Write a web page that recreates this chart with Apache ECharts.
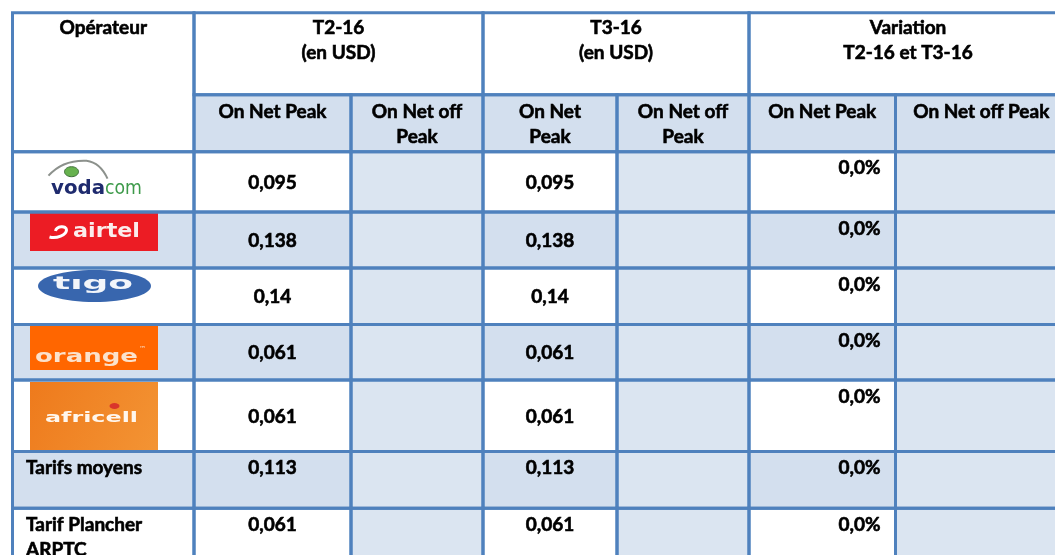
<!DOCTYPE html>
<html>
<head>
<meta charset="utf-8">
<script src="https://cdn.jsdelivr.net/npm/echarts/dist/echarts.min.js"></script>
<style>html,body{margin:0;padding:0;background:#fff}#c{width:1055px;height:555px}</style>
</head>
<body>
<div id="c"></div>
<script>
// ---------- data ----------
const operatorHeader = 'Opérateur';
const operatorLabels = ['vodacom', 'airtel', 'tigo', 'orange', 'africell', 'Tarifs moyens', 'Tarif Plancher\nARPTC'];
const logoOperators = ['vodacom', 'airtel', 'tigo', 'orange', 'africell'];
const periodHeaders = ['T2-16\n(en USD)', 'T3-16\n(en USD)', 'Variation\nT2-16 et T3-16'];
const subHeaders = ['On Net Peak', 'On Net off\nPeak', 'On Net\nPeak', 'On Net off\nPeak', 'On Net Peak', 'On Net off Peak'];
const t2Peak = [0.095, 0.138, 0.14, 0.061, 0.061, 0.113, 0.061];
const t2OffPeak = [null, null, null, null, null, null, null];
const t3Peak = [0.095, 0.138, 0.14, 0.061, 0.061, 0.113, 0.061];
const t3OffPeak = [null, null, null, null, null, null, null];
const variationPeak = [0, 0, 0, 0, 0, 0, 0];
const variationOffPeak = [null, null, null, null, null, null, null];

// ---------- layout / style ----------
const colEdges = [12.5, 194, 351, 483, 617, 749, 895.5, 1067];
const rowEdges = [12.7, 94.7, 151.7, 212, 268, 324.5, 380, 451.5, 508.3, 580];
const C = { border: '#4F81BD', band: '#D3DFEE', off: '#DBE5F1', white: '#FFFFFF', text: '#000000' };

const mctx = document.createElement('canvas').getContext('2d');
function textW(t, font) { mctx.font = font; return mctx.measureText(t).width; }
let fs = 20 * 108 / textW('On Net Peak', 'bold 20px Lato');
fs = Math.max(15, Math.min(22, fs));
const tableFont = 'bold ' + fs.toFixed(1) + 'px Lato, "Open Sans", sans-serif';

const fmtNum = v => v == null ? '' : String(v).replace('.', ',');
const fmtPct = v => v == null ? '' : v.toFixed(1).replace('.', ',') + '%';

// ---------- cells ----------
const cells = [];
cells.push({ c0: 0, c1: 1, r0: 0, r1: 2, fill: C.white, text: operatorHeader, align: 'center', valign: 'top', pad: 3 });
periodHeaders.forEach((t, i) => cells.push({ c0: 1 + 2 * i, c1: 3 + 2 * i, r0: 0, r1: 1, fill: C.white, text: t, align: 'center', valign: 'top', pad: 3 }));
subHeaders.forEach((t, j) => cells.push({ c0: 1 + j, c1: 2 + j, r0: 1, r1: 2, fill: C.band, text: t, align: 'center', valign: 'top', pad: 4.5 }));
operatorLabels.forEach((op, i) => {
  const r = 2 + i;
  const band = i % 2 === 1 ? C.band : C.white;
  const isLogo = logoOperators.indexOf(op) >= 0;
  cells.push({ c0: 0, c1: 1, r0: r, r1: r + 1, fill: band, text: isLogo ? '' : op, align: 'left', valign: 'top', pad: 4 });
  const vals = [fmtNum(t2Peak[i]), fmtNum(t2OffPeak[i]), fmtNum(t3Peak[i]), fmtNum(t3OffPeak[i]), fmtPct(variationPeak[i]), fmtPct(variationOffPeak[i])];
  vals.forEach((t, j) => cells.push({
    c0: 1 + j, c1: 2 + j, r0: r, r1: r + 1,
    fill: j % 2 === 1 ? C.off : band,
    text: t,
    align: j >= 4 ? 'right' : 'center',
    valign: (j >= 4 || !isLogo) ? 'top' : 'middle',
    pad: 4
  }));
});

function cellRect(api, c) {
  const p0 = api.coord([colEdges[c.c0], rowEdges[c.r0]]);
  const p1 = api.coord([colEdges[c.c1], rowEdges[c.r1]]);
  return { x: p0[0], y: p0[1], w: p1[0] - p0[0], h: p1[1] - p0[1] };
}

function renderCell(params, api) {
  const c = cells[params.dataIndex];
  const R = cellRect(api, c);
  const children = [{ type: 'rect', shape: { x: R.x, y: R.y, width: R.w, height: R.h }, style: { fill: c.fill } }];
  if (c.text) {
    let tx = R.x + R.w / 2;
    if (c.align === 'left') tx = R.x + 13.5;
    if (c.align === 'right') tx = R.x + R.w - 15;
    const ty = c.valign === 'top' ? R.y + c.pad : R.y + R.h / 2 + 1;
    children.push({
      type: 'text',
      style: { text: c.text, x: tx, y: ty, font: tableFont, fill: C.text, stroke: C.text, lineWidth: 0.6, align: c.align, verticalAlign: c.valign, lineHeight: 25 }
    });
  }
  return { type: 'group', children: children };
}

function renderBorder(params, api) {
  const c = cells[params.dataIndex];
  const R = cellRect(api, c);
  return { type: 'rect', shape: { x: R.x, y: R.y, width: R.w, height: R.h }, style: { fill: 'none', stroke: C.border, lineWidth: 3 } };
}

function fitText(text, font, cx, cy, targetW, fill, align) {
  const w = textW(text, font);
  return {
    type: 'text', x: cx, y: cy, scaleX: targetW / w, scaleY: 1,
    style: { text: text, x: 0, y: 0, font: font, fill: fill, align: align || 'center', verticalAlign: 'middle' }
  };
}

function renderLogo(params, api) {
  const i = params.dataIndex;
  const op = operatorLabels[i];
  const R = cellRect(api, { c0: 0, c1: 1, r0: 2 + i, r1: 3 + i });
  const X = R.x, Y = R.y;
  const ch = [];
  if (op === 'vodacom') {
    ch.push({ type: 'path', shape: { pathData: 'M' + (X + 36) + ' ' + (Y + 24) + ' Q' + (X + 50) + ' ' + (Y + 8) + ' ' + (X + 74) + ' ' + (Y + 9) + ' Q' + (X + 88) + ' ' + (Y + 11) + ' ' + (X + 95) + ' ' + (Y + 27) }, style: { fill: 'none', stroke: '#8C918C', lineWidth: 2 } });
    ch.push({ type: 'ellipse', shape: { cx: X + 59, cy: Y + 20, rx: 7, ry: 5 }, style: { fill: '#67B24E', stroke: '#3F6E3A', lineWidth: 1 } });
    ch.push(fitText('voda', 'bold 19px "DejaVu Sans"', X + 92.5, Y + 37, 54, '#1F2B6E', 'right'));
    ch.push(fitText('com', '19px "DejaVu Sans"', X + 92.5, Y + 37, 37, '#3D9A4A', 'left'));
  } else if (op === 'airtel') {
    ch.push({ type: 'rect', shape: { x: X + 17.5, y: Y + 1, width: 128, height: 38 }, style: { fill: '#EC1C24' } });
    ch.push({ type: 'path', shape: { pathData: 'M' + (X + 37) + ' ' + (Y + 25) + ' C' + (X + 44) + ' ' + (Y + 27) + ' ' + (X + 54) + ' ' + (Y + 23) + ' ' + (X + 54) + ' ' + (Y + 18) + ' C' + (X + 54) + ' ' + (Y + 13) + ' ' + (X + 44) + ' ' + (Y + 14) + ' ' + (X + 43) + ' ' + (Y + 19) }, style: { fill: 'none', stroke: '#FFFFFF', lineWidth: 3 } });
    ch.push(fitText('airtel', 'bold 20px "DejaVu Sans"', X + 94, Y + 19.5, 67, '#FBECEC'));
  } else if (op === 'tigo') {
    ch.push({ type: 'ellipse', shape: { cx: X + 82, cy: Y + 18, rx: 56.5, ry: 16 }, style: { fill: '#3866AE' } });
    ch.push(fitText('tıgo', 'bold 17px "DejaVu Sans"', X + 80.5, Y + 17, 80, '#F2F5FA'));
  } else if (op === 'orange') {
    ch.push({ type: 'rect', shape: { x: X + 17.5, y: Y + 1.5, width: 128, height: 44 }, style: { fill: '#FF6600' } });
    ch.push(fitText('orange', 'bold 18px "DejaVu Sans"', X + 74, Y + 33, 103, '#FBE2CC'));
    ch.push({ type: 'text', style: { text: '™', x: X + 130, y: Y + 25, font: '7px "DejaVu Sans"', fill: '#FBE2CC', align: 'center', verticalAlign: 'middle' } });
  } else if (op === 'africell') {
    ch.push({ type: 'rect', shape: { x: X + 17.5, y: Y + 2, width: 128, height: 69 }, style: { fill: new echarts.graphic.LinearGradient(0, 0, 1, 1, [{ offset: 0, color: '#EE7A1C' }, { offset: 1, color: '#F39434' }]) } });
    ch.push({ type: 'ellipse', shape: { cx: X + 102, cy: Y + 26, rx: 5, ry: 3 }, style: { fill: '#D9352B' } });
    ch.push(fitText('africell', 'bold 14px "DejaVu Sans"', X + 79, Y + 38, 93, '#FFF6EC'));
  }
  return { type: 'group', children: ch };
}

const chart = echarts.init(document.getElementById('c'), null, { renderer: 'canvas' });
chart.setOption({
  animation: false,
  backgroundColor: '#FFFFFF',
  grid: { left: 0, right: 0, top: 0, bottom: 0 },
  xAxis: { type: 'value', min: 0, max: 1055, show: false },
  yAxis: { type: 'value', min: 0, max: 555, inverse: true, show: false },
  series: [
    { type: 'custom', name: 'cells', silent: true, clip: false, z: 1, renderItem: renderCell, data: cells.map((c, i) => [c.c0, c.r0, i]) },
    { type: 'custom', name: 'logos', silent: true, clip: false, z: 2, renderItem: renderLogo, data: logoOperators.map((op, i) => [0, 2 + i, i]) },
    { type: 'custom', name: 'borders', silent: true, clip: false, z: 3, renderItem: renderBorder, data: cells.map((c, i) => [c.c0, c.r0, i]) }
  ]
});
</script>
</body>
</html>
